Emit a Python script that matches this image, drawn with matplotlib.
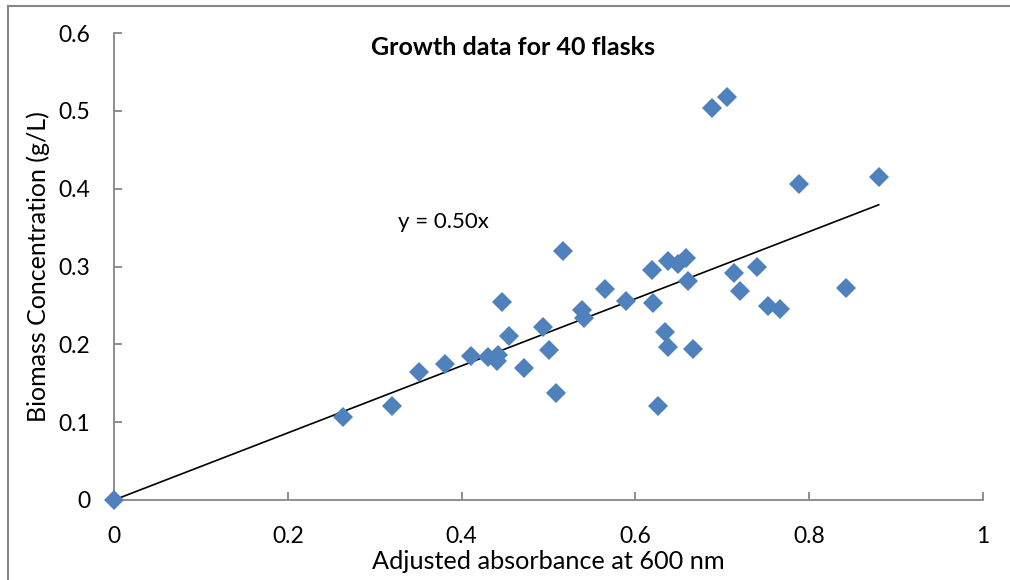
import matplotlib
matplotlib.use("Agg")
import matplotlib.pyplot as plt
from matplotlib.lines import Line2D

plt.rcParams['font.family'] = ['Lato', 'DejaVu Sans']

# Adjusted absorbance at 600 nm and biomass concentration for each flask
absorbance = [0.000, 0.264, 0.320, 0.351, 0.381, 0.411, 0.430, 0.441, 0.442, 0.447,
              0.455, 0.472, 0.494, 0.501, 0.509, 0.517, 0.538, 0.541, 0.565, 0.589,
              0.619, 0.620, 0.626, 0.634, 0.637, 0.638, 0.649, 0.658, 0.660, 0.666,
              0.688, 0.705, 0.713, 0.720, 0.740, 0.753, 0.766, 0.788, 0.842, 0.880]
biomass = [0.000, 0.107, 0.121, 0.164, 0.175, 0.185, 0.184, 0.179, 0.186, 0.254,
           0.211, 0.170, 0.222, 0.193, 0.138, 0.320, 0.244, 0.234, 0.271, 0.256,
           0.296, 0.253, 0.121, 0.216, 0.197, 0.307, 0.303, 0.311, 0.281, 0.194,
           0.504, 0.518, 0.292, 0.269, 0.299, 0.249, 0.246, 0.406, 0.273, 0.415]

# Trendline through the origin
trend_slope = 0.431
trend_x = [0.0, 0.880]
trend_label = "y = 0.50x"

x_ticks = [0, 0.2, 0.4, 0.6, 0.8, 1]
x_tick_labels = ["0", "0.2", "0.4", "0.6", "0.8", "1"]
y_ticks = [0, 0.1, 0.2, 0.3, 0.4, 0.5, 0.6]
y_tick_labels = ["0", "0.1", "0.2", "0.3", "0.4", "0.5", "0.6"]

axis_grey = "#868686"
marker_blue = "#4F81BD"

fig = plt.figure(figsize=(10.1, 5.8), dpi=100)
ax = fig.add_axes([114 / 1010, 1 - 500 / 580, (983 - 114) / 1010, (500 - 33) / 580])

ax.plot(trend_x, [trend_slope * v for v in trend_x], color="black", lw=1.2, zorder=2)
ax.plot(absorbance, biomass, linestyle="none", marker="D", markersize=10.6,
        markerfacecolor=marker_blue, markeredgecolor=marker_blue, markeredgewidth=0,
        zorder=3, clip_on=False)

ax.set_xlim(0, 1)
ax.set_ylim(0, 0.6)
ax.set_xticks(x_ticks)
ax.set_xticklabels(x_tick_labels)
ax.set_yticks(y_ticks)
ax.set_yticklabels(y_tick_labels)

for side in ("top", "right"):
    ax.spines[side].set_visible(False)
for side in ("left", "bottom"):
    ax.spines[side].set_color(axis_grey)
    ax.spines[side].set_linewidth(1.3)

ax.tick_params(axis="both", direction="in", length=5.5, width=1.3, color=axis_grey,
               labelsize=16.5, labelcolor="black")
ax.tick_params(axis="x", pad=19)
ax.tick_params(axis="y", pad=17)

ax.set_xlabel("Adjusted absorbance at 600 nm", fontsize=18.2, labelpad=2)
ax.set_ylabel("Biomass Concentration (g/L)", fontsize=18, labelpad=6)

ax.text(0.459, 0.582, "Growth data for 40 flasks", transform=ax.transData,
        ha="center", va="center", fontsize=18, fontweight="bold")
ax.text(0.327, 0.357, trend_label, ha="left", va="center", fontsize=16)

# Chart frame edges along the top and left
fig.add_artist(Line2D([8 / 1010, 1], [1 - 6 / 580, 1 - 6 / 580], color=axis_grey,
                      lw=1.5, transform=fig.transFigure))
fig.add_artist(Line2D([8 / 1010, 8 / 1010], [0, 1 - 6 / 580], color=axis_grey,
                      lw=1.5, transform=fig.transFigure))

fig.savefig("out.png", dpi=100)
